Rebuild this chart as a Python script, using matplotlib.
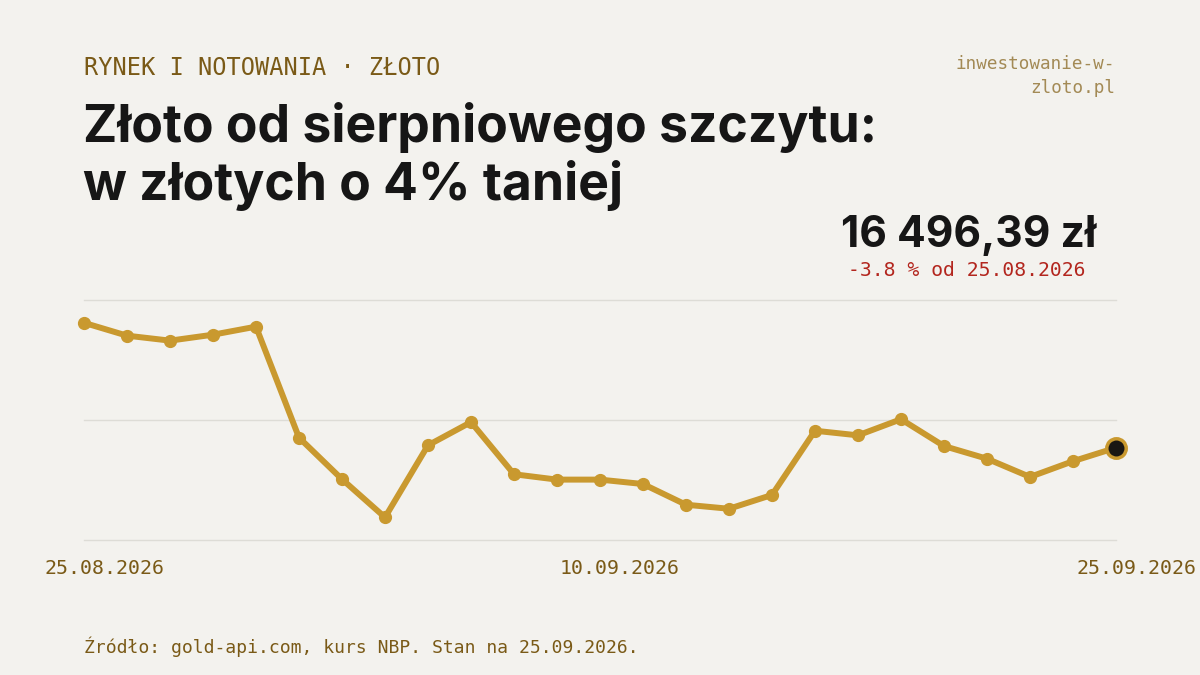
import matplotlib
matplotlib.use("Agg")
import matplotlib.pyplot as plt
import matplotlib.transforms as mtransforms

# ---- data ----
prices = [17148, 17081, 17055, 17086, 17128, 16549, 16332, 16133, 16509, 16630,
          16358, 16330, 16330, 16307, 16199, 16178, 16250, 16585, 16561, 16645,
          16505, 16439, 16344, 16426, 16496.39]
tick_idx = [0, 12, 24]
tick_labels = ["25.08.2026", "10.09.2026", "25.09.2026"]
kicker = "RYNEK I NOTOWANIA · ZŁOTO"
title_lines = ["Złoto od sierpniowego szczytu:", "w złotych o 4% taniej"]
site_lines = ["inwestowanie-w-", "zloto.pl"]
last_value = "16 496,39 zł"
change_text = "-3.8 % od 25.08.2026"
source_text = "Źródło: gold-api.com, kurs NBP. Stan na 25.09.2026."
y_low, y_high = 16015, 17267

BG = "#f3f2ee"
GOLD = "#c9992f"
DARK = "#161616"
BROWN = "#7a5a17"
SITE = "#a38a55"
RED = "#b3261e"
GRID = "#dddcd6"
MONO = ["DejaVu Sans Mono"]
SANS = ["Inter", "DejaVu Sans"]

W, H = 1200, 675
fig = plt.figure(figsize=(12, 6.75), dpi=100, facecolor=BG)

def px(x, y):
    return x / W, 1 - y / H

# axes spanning x 84..1116, y 300..540
ax = fig.add_axes([84 / W, 1 - 540 / H, (1116 - 84) / W, (540 - 300) / H])
ax.set_facecolor(BG)
n = len(prices)
xs = list(range(n))
ax.set_xlim(0, n - 1)
ax.set_ylim(y_low, y_high)
for s in ax.spines.values():
    s.set_visible(False)
mid = (y_low + y_high) / 2
for gy in (y_low, mid, y_high):
    ax.axhline(gy, color=GRID, lw=1.0, zorder=0, clip_on=False)
ax.set_yticks([])
ax.set_xticks([])
ax.plot(xs, prices, color=GOLD, lw=4.3, solid_joinstyle="round", solid_capstyle="round",
        marker="o", markersize=8.5, markerfacecolor=GOLD, markeredgecolor=GOLD, zorder=3,
        clip_on=False)
ax.plot([xs[-1]], [prices[-1]], marker="o", markersize=14, markerfacecolor="#1a1713",
        markeredgecolor=GOLD, markeredgewidth=2.5, zorder=4, clip_on=False)

off = mtransforms.ScaledTranslation(20 / 100, 0, fig.dpi_scale_trans)
trans = mtransforms.blended_transform_factory(ax.transData, fig.transFigure) + off
for i, lab in zip(tick_idx, tick_labels):
    ax.text(i, 1 - 568 / H, lab, transform=trans, ha="center", va="center",
            fontsize=14.3, color=BROWN, family=MONO, fontweight="medium")

# header texts
fig.text(*px(84, 68), kicker, ha="left", va="center", fontsize=17, color=BROWN,
         family=MONO, fontweight="normal")
fig.text(*px(1115, 64), site_lines[0], ha="right", va="center", fontsize=12.7, color=SITE, family=MONO)
fig.text(*px(1115, 88), site_lines[1], ha="right", va="center", fontsize=12.7, color=SITE, family=MONO)
fig.text(*px(83, 142), title_lines[0], ha="left", va="baseline", fontsize=37.2, color=DARK,
         family=SANS, fontweight="bold")
fig.text(*px(83, 200), title_lines[1], ha="left", va="baseline", fontsize=37.2, color=DARK,
         family=SANS, fontweight="bold")
fig.text(*px(1096, 247), last_value, ha="right", va="baseline", fontsize=30.6, color=DARK,
         family=SANS, fontweight="bold")
fig.text(*px(1086, 270), change_text, ha="right", va="center", fontsize=14.2, color=RED, family=MONO)
fig.text(*px(84, 647), source_text, ha="left", va="center", fontsize=13.0, color=BROWN, family=MONO)

fig.savefig("out.png", dpi=100, facecolor=BG)
